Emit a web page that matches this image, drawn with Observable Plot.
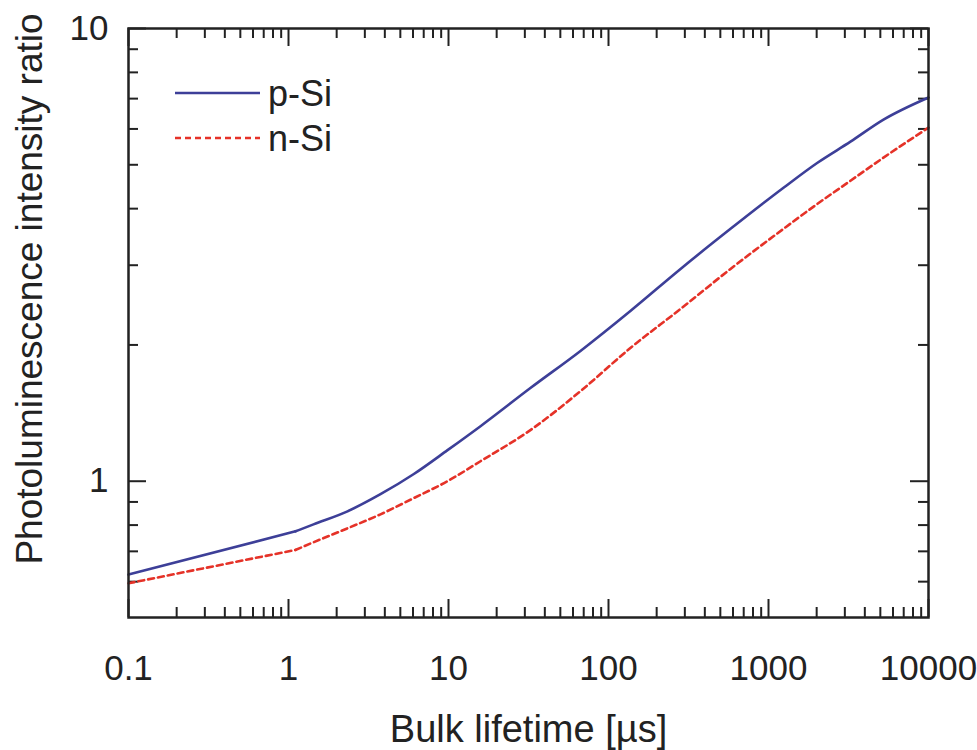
<!DOCTYPE html>
<html><head><meta charset="utf-8">
<script src="https://cdn.jsdelivr.net/npm/d3@7"></script>
<script src="https://cdn.jsdelivr.net/npm/@observablehq/plot@0.6"></script>
<style>
body{margin:0;background:#fff;}
#wrap{position:relative;width:977px;height:750px;}
#legend{position:absolute;left:0;top:0;}
</style>
</head><body><div id="wrap"></div>
<script>
// Bulk lifetime [µs]
const lifetime = [0.1, 1.106, 1.433, 2.337, 3.758, 6.04, 9.86, 15.85, 32.5, 66.8, 137, 282, 579, 1241, 2024, 3254, 5233, 10000];
const pSi = [0.622, 0.775, 0.803, 0.858, 0.936, 1.036, 1.171, 1.323, 1.606, 1.940, 2.377, 2.944, 3.61, 4.449, 5.053, 5.623, 6.29, 7.04];
const nSi = [0.595, 0.705, 0.733, 0.787, 0.845, 0.917, 1.0, 1.107, 1.297, 1.581, 1.969, 2.402, 2.944, 3.61, 4.10, 4.61, 5.185, 6.04];
const seriesNames = ["p-Si", "n-Si"];
const kink = 1.106; // slope break in both curves
const xMajor = [0.1, 1, 10, 100, 1000, 10000];
const xTickLabels = ["0.1", "1", "10", "100", "1000", "10000"];
const yMajor = [1, 10];
const yTickLabels = ["1", "10"];
const xLabel = "Bulk lifetime [\u00b5s]";
const yLabel = "Photoluminescence intensity ratio";

const xMinor = [];
for (const d of xMajor.slice(0, -1)) for (let k = 2; k <= 9; k++) xMinor.push(+(d * k).toPrecision(6));
const yMinor = [0.6, 0.7, 0.8, 0.9, 2, 3, 4, 5, 6, 7, 8, 9];

const rows = [];
lifetime.forEach((t, i) => {
  rows.push({t, v: pSi[i], s: seriesNames[0]});
  rows.push({t, v: nSi[i], s: seriesNames[1]});
});

const W = 977, H = 750, mL = 128, mR = 49, mT = 28, mB = 133;
const fh = H - mT - mB, fw = W - mL - mR;
const font = "'Liberation Sans', Arial, Helvetica, sans-serif";
const ink = "#222";
const blue = "#3d3f98", red = "#e53228";

function seriesMarks(name, opts) {
  const r = rows.filter(d => d.s === name);
  return [
    Plot.line(r.filter(d => d.t <= kink), {x: "t", y: "v", curve: "linear", ...opts}),
    Plot.line(r.filter(d => d.t >= kink), {x: "t", y: "v", curve: "monotone-x", ...opts})
  ];
}

const chart = Plot.plot({
  width: W, height: H,
  marginLeft: mL, marginRight: mR, marginTop: mT, marginBottom: mB,
  style: {fontFamily: font, background: "#fff", color: ink},
  x: {type: "log", domain: [0.1, 10000]},
  y: {type: "log", domain: [0.5, 10]},
  marks: [
    Plot.tickX(xMinor, {x: d => d, insetTop: fh - 10, stroke: ink, strokeWidth: 2}),
    Plot.tickX(xMajor, {x: d => d, insetTop: fh - 18, stroke: ink, strokeWidth: 2}),
    Plot.tickX(xMinor, {x: d => d, insetBottom: fh - 10, stroke: ink, strokeWidth: 2}),
    Plot.tickX(xMajor, {x: d => d, insetBottom: fh - 18, stroke: ink, strokeWidth: 2}),
    Plot.tickY(yMinor, {y: d => d, insetRight: fw - 10, stroke: ink, strokeWidth: 2}),
    Plot.tickY(yMajor, {y: d => d, insetRight: fw - 18, stroke: ink, strokeWidth: 2}),
    Plot.tickY(yMinor, {y: d => d, insetLeft: fw - 10, stroke: ink, strokeWidth: 2}),
    Plot.tickY(yMajor, {y: d => d, insetLeft: fw - 18, stroke: ink, strokeWidth: 2}),
    Plot.axisX({ticks: xMajor, tickSize: 0, tickPadding: 38, fontSize: 35,
      tickFormat: (d) => xTickLabels[xMajor.indexOf(d)], label: null, fill: ink}),
    Plot.axisY({ticks: yMajor, tickSize: 0, tickPadding: 20, fontSize: 35,
      tickFormat: (d) => yTickLabels[yMajor.indexOf(d)], label: null, fill: ink}),
    ...seriesMarks(seriesNames[0], {stroke: blue, strokeWidth: 2.6}),
    ...seriesMarks(seriesNames[1], {stroke: red, strokeWidth: 2.6, strokeDasharray: "6,4"}),
    Plot.frame({stroke: ink, strokeWidth: 2.5}),
    Plot.text([xLabel], {frameAnchor: "bottom", dy: 112, fontSize: 38, fill: ink, lineAnchor: "middle"}),
    Plot.text([yLabel], {frameAnchor: "left", textAnchor: "middle", rotate: -90, dx: -98, dy: -34, fontSize: 37, fill: ink, lineAnchor: "middle"})
  ]
});
document.getElementById("wrap").appendChild(chart);

// legend overlay
const ns = "http://www.w3.org/2000/svg";
const lg = document.createElementNS(ns, "svg");
lg.setAttribute("id", "legend");
lg.setAttribute("width", W); lg.setAttribute("height", 200);
const items = [{name: seriesNames[0], color: blue, dash: null, y: 93}, {name: seriesNames[1], color: red, dash: "6,4", y: 138}];
for (const it of items) {
  const l = document.createElementNS(ns, "line");
  l.setAttribute("x1", 175); l.setAttribute("x2", 260);
  l.setAttribute("y1", it.y); l.setAttribute("y2", it.y);
  l.setAttribute("stroke", it.color); l.setAttribute("stroke-width", 2.6);
  if (it.dash) l.setAttribute("stroke-dasharray", it.dash);
  lg.appendChild(l);
  const t = document.createElementNS(ns, "text");
  t.setAttribute("x", 268); t.setAttribute("y", it.y);
  t.setAttribute("dy", "0.36em");
  t.setAttribute("font-size", 36);
  t.setAttribute("font-family", font);
  t.setAttribute("fill", ink);
  t.textContent = it.name;
  lg.appendChild(t);
}
document.getElementById("wrap").appendChild(lg);
</script>
</body></html>
